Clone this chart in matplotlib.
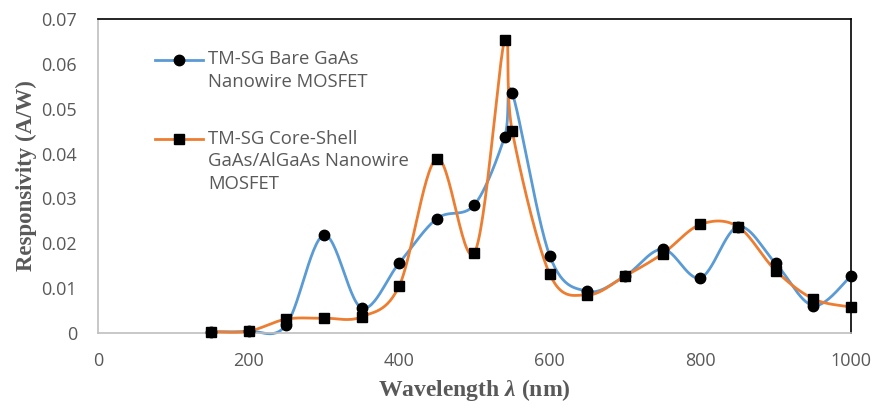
import numpy as np
import matplotlib.pyplot as plt
from matplotlib.lines import Line2D

# wavelength (nm) and responsivity (A/W)
wavelength = [150, 200, 250, 300, 350, 400, 450, 500, 540, 550,
              600, 650, 700, 750, 800, 850, 900, 950, 1000]
bare = [0.0003, 0.0004, 0.0018, 0.0218, 0.0056, 0.0156, 0.0255, 0.0286, 0.0437, 0.0535,
        0.0172, 0.0093, 0.0127, 0.0187, 0.0123, 0.0237, 0.0155, 0.0061, 0.0127]
core_shell = [0.0003, 0.0004, 0.0031, 0.0033, 0.0036, 0.0105, 0.0389, 0.0179, 0.0653, 0.0451,
              0.0131, 0.0085, 0.0127, 0.0177, 0.0242, 0.0237, 0.0139, 0.0076, 0.0058]

label_bare = "TM-SG Bare GaAs\nNanowire MOSFET"
label_cs = "TM-SG Core-Shell\nGaAs/AlGaAs Nanowire\nMOSFET"

xticks = [0, 200, 400, 600, 800, 1000]
yticks = [0, 0.01, 0.02, 0.03, 0.04, 0.05, 0.06, 0.07]
ytick_labels = ["0", "0.01", "0.02", "0.03", "0.04", "0.05", "0.06", "0.07"]

BLUE = "#5B9BD5"
ORANGE = "#ED7D31"
GREY = "#595959"

plt.rcParams['mathtext.fontset'] = 'custom'
plt.rcParams['mathtext.it'] = 'Liberation Serif:italic:bold'
plt.rcParams['mathtext.rm'] = 'Liberation Serif:bold'


def smooth(x, y, sx=753 / 1000, sy=314 / 0.07, n=30):
    # excel-style smoothed line: bezier through points, catmull-rom tangents (in pixel space)
    p = np.column_stack([np.asarray(x) * sx, np.asarray(y) * sy])
    out = []
    for i in range(len(p) - 1):
        p0 = p[i - 1] if i > 0 else p[i]
        p1 = p[i]
        p2 = p[i + 1]
        p3 = p[i + 2] if i + 2 < len(p) else p[i + 1]
        c1 = p1 + (p2 - p0) / 6
        c2 = p2 - (p3 - p1) / 6
        t = np.linspace(0, 1, n)[:, None]
        seg = (1 - t) ** 3 * p1 + 3 * (1 - t) ** 2 * t * c1 + 3 * (1 - t) * t ** 2 * c2 + t ** 3 * p2
        out.append(seg if i == 0 else seg[1:])
    out = np.vstack(out)
    return out[:, 0] / sx, out[:, 1] / sy


fig = plt.figure(figsize=(8.74, 4.05), dpi=100)
ax = fig.add_axes([98 / 874, 1 - 333 / 405, 753 / 874, 314 / 405])

bx, by = smooth(wavelength, bare)
cx, cy = smooth(wavelength, core_shell)
ax.plot(bx, by, color=BLUE, lw=2, clip_on=False, zorder=2)
ax.plot(cx, cy, color=ORANGE, lw=2, clip_on=False, zorder=3)
ax.plot(wavelength, bare, 'o', color='black', ms=7.5, clip_on=False, zorder=4)
ax.plot(wavelength, core_shell, 's', color='black', ms=7.5, clip_on=False, zorder=5)

ax.set_xlim(0, 1000)
ax.set_ylim(0, 0.07)
ax.set_xticks(xticks)
ax.set_yticks(yticks)
ax.set_yticklabels(ytick_labels)
ax.tick_params(length=0, labelsize=13, labelcolor=GREY)
ax.tick_params(axis='y', pad=15)
ax.tick_params(axis='x', pad=14)
for lab in ax.get_xticklabels() + ax.get_yticklabels():
    lab.set_family("Open Sans")

ax.spines['left'].set_color('#BFBFBF')
ax.spines['bottom'].set_color('#BFBFBF')
ax.spines['top'].set_color('black')
ax.spines['right'].set_color('black')
for s in ax.spines.values():
    s.set_linewidth(1.2)

ax.set_xlabel("Wavelength $\\lambda$ (nm)", family="Liberation Serif", fontweight="bold",
              fontsize=17, color=GREY, labelpad=5)
ax.set_ylabel("Responsivity (A/W)", family="Liberation Serif", fontweight="bold",
              fontsize=16.5, color=GREY, labelpad=3)

# legend, handle aligned with first line of each label like the original
entries = [(BLUE, 'o', label_bare, 0.870), (ORANGE, 's', label_cs, 0.618)]
for col, mk, txt, yy in entries:
    ax.add_line(Line2D([0.076, 0.140], [yy, yy], color=col, lw=2, transform=ax.transAxes, clip_on=False))
    ax.add_line(Line2D([0.108], [yy], marker=mk, color='black', ms=7.5, ls='none',
                       transform=ax.transAxes, clip_on=False))
    ax.text(0.146, yy + 0.03, txt, transform=ax.transAxes, ha='left', va='top', fontsize=13.3,
            color=GREY, family="Open Sans", linespacing=1.35)

fig.savefig("out.png", dpi=100)
